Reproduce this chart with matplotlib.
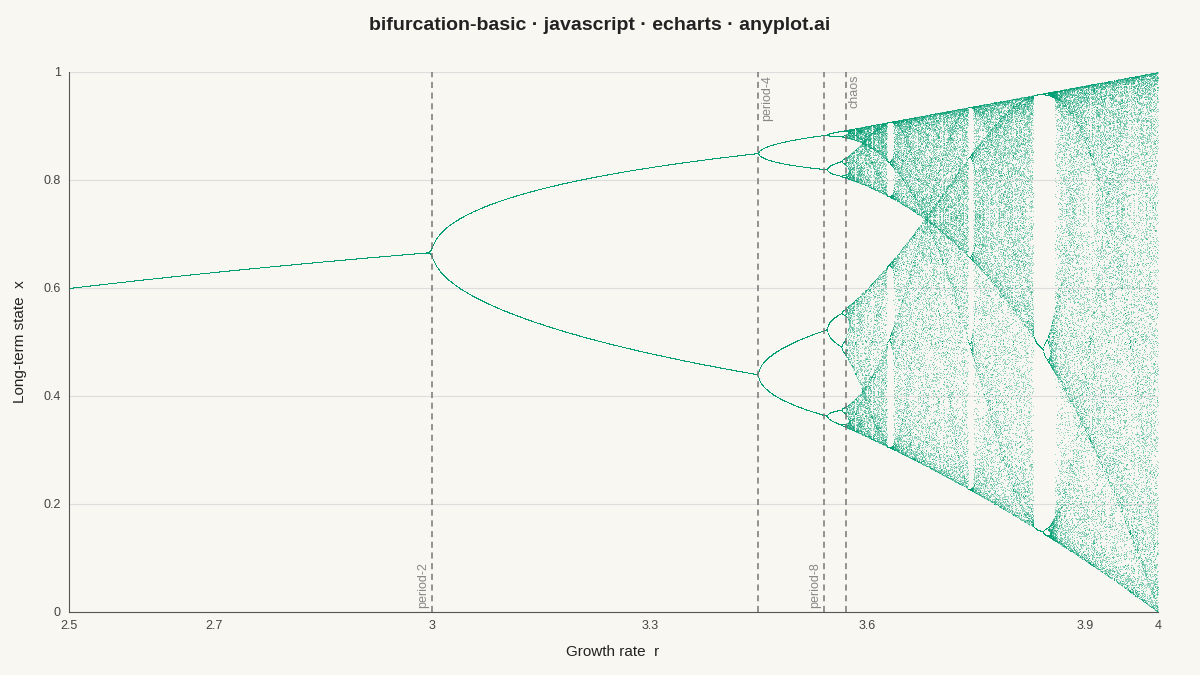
"""Bifurcation diagram of the logistic map, styled after the echarts reference."""
import numpy as np
import matplotlib.pyplot as plt

plt.rcParams['font.family'] = ['Liberation Sans', 'DejaVu Sans']

# Parameters of the logistic map sweep x -> r * x * (1 - x)
r_min, r_max = 2.5, 4.0
r_steps = 3000
warmup_iters = 600
kept_iters = 80
x0 = 0.5

# Marked bifurcation points
marker_r = [3.0, 3.449, 3.54, 3.5699]
marker_labels = ["period-2", "period-4", "period-8", "chaos"]
marker_at_top = [False, True, False, True]
marker_side = ["left", "right", "left", "right"]

x_ticks = [2.5, 2.7, 3, 3.3, 3.6, 3.9, 4]
y_ticks = [0, 0.2, 0.4, 0.6, 0.8, 1]

BG = "#f9f7f1"
GREEN = "#009e73"

# Iterate the map for every r at once
r = np.linspace(r_min, r_max, r_steps)
x = np.full_like(r, x0)
for _ in range(warmup_iters):
    x = r * x * (1 - x)
rs, xs = [], []
for _ in range(kept_iters):
    x = r * x * (1 - x)
    rs.append(r.copy())
    xs.append(x.copy())
rs = np.concatenate(rs)
xs = np.concatenate(xs)

fig = plt.figure(figsize=(12, 6.75), dpi=100, facecolor=BG)
ax = fig.add_axes([69 / 1200, 1 - 612 / 675, (1158 - 69) / 1200, (612 - 72) / 675])
ax.set_facecolor(BG)

ax.scatter(rs, xs, s=0.4, c=GREEN, alpha=0.35, linewidths=0, rasterized=True)

for rv, lab, top, side in zip(marker_r, marker_labels, marker_at_top, marker_side):
    ax.axvline(rv, color="#777777", linestyle=(0, (4, 3)), linewidth=1.1, zorder=3)
    dx = -0.004 if side == "left" else 0.004
    ax.text(rv + dx, 0.995 if top else 0.008, lab, rotation=90, fontsize=9,
            color="#888888", ha="right" if side == "left" else "left",
            va="top" if top else "bottom")

ax.set_xlim(r_min, r_max)
ax.set_ylim(0, 1)
ax.set_xticks(x_ticks)
ax.set_xticklabels([str(t) for t in x_ticks])
ax.set_yticks(y_ticks)
ax.set_yticklabels([str(t) for t in y_ticks])
ax.tick_params(colors="#444444", labelsize=9, length=0, pad=6)
ax.grid(axis="y", color="#dddddd", linewidth=0.8)
ax.set_axisbelow(True)
for side in ["top", "right"]:
    ax.spines[side].set_visible(False)
for side in ["left", "bottom"]:
    ax.spines[side].set_color("#555555")

fig.text(613 / 1200, 1 - 652 / 675, "Growth rate  r", fontsize=11, color="#222222",
         ha="center", va="center")
fig.text(20 / 1200, 1 - 342 / 675, "Long-term state  x", fontsize=11, color="#222222",
         ha="center", va="center", rotation=90)
fig.text(0.5, 1 - 25 / 675, "bifurcation-basic · javascript · echarts · anyplot.ai",
         fontsize=14, fontweight="bold", color="#222222", ha="center", va="center")

plt.savefig("out.png", dpi=100, facecolor=BG)
